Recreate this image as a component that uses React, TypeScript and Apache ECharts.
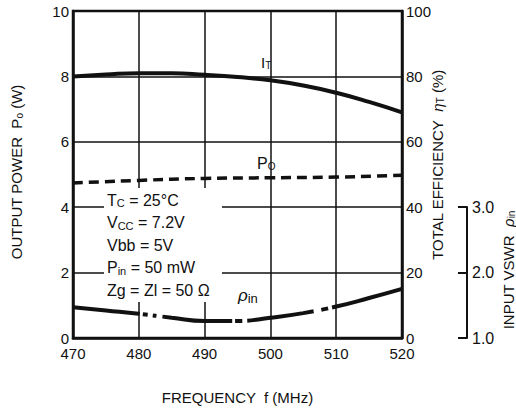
import React, { useEffect, useRef } from "react";
import * as echarts from "echarts";

const freqTicks = [470, 480, 490, 500, 510, 520];
const effFreq = [470, 475, 480, 485, 490, 495, 500, 505, 510, 515, 520];
const effVals = [80, 80.6, 81, 81, 80.5, 79.8, 78.8, 77.2, 75, 72.2, 69];
const poFreq = [470, 480, 490, 500, 510, 520];
const poVals = [4.74, 4.82, 4.88, 4.9, 4.92, 4.98];
const rhoFreq = [470, 475, 480, 485, 490, 495, 500, 505, 510, 515, 520];
const rhoVals = [1.47, 1.42, 1.37, 1.31, 1.26, 1.26, 1.31, 1.38, 1.48, 1.61, 1.75];
const vswrTicks = ["1.0", "2.0", "3.0"];
const conditions = [
  "T{s|C} = 25°C",
  "V{s|CC} = 7.2V",
  "Vbb = 5V",
  "P{s|in} = 50 mW",
  "Zg = Zl = 50 Ω",
];

const FONT = "'Liberation Sans', Arial, sans-serif";
const INK = "#111";

export default function App() {
  const ref = useRef<HTMLDivElement>(null);
  useEffect(() => {
    if (!ref.current) return;
    const chart = echarts.init(ref.current, null, { renderer: "svg" });
    const label = { color: INK, fontFamily: FONT, fontSize: 15 };
    const sub = { fontSize: 10, verticalAlign: "bottom", padding: [6, 0, 0, 0], fontFamily: FONT, color: INK };
    const italic = { fontStyle: "italic", fontSize: 15, fontFamily: FONT, color: INK };
    chart.setOption({
      animation: false,
      backgroundColor: "#fff",
      grid: [
        { left: 73, top: 11, width: 329, height: 327, show: true, borderColor: INK, borderWidth: 2.5, backgroundColor: "transparent" },
        { left: 73, top: 207, width: 329, height: 131, show: false },
      ],
      xAxis: [
        {
          type: "value", gridIndex: 0, min: 470, max: 520, interval: 10,
          axisLine: { show: true, lineStyle: { color: INK, width: 2.5 } },
          axisTick: { show: false },
          axisLabel: { ...label, margin: 8, customValues: freqTicks },
          splitLine: { show: true, lineStyle: { color: INK, width: 1.5 } },
          name: "FREQUENCY  f (MHz)", nameLocation: "middle", nameGap: 52,
          nameTextStyle: { color: INK, fontFamily: FONT, fontSize: 15 },
        },
        { type: "value", gridIndex: 1, min: 470, max: 520, show: false },
      ],
      yAxis: [
        {
          type: "value", gridIndex: 0, min: 0, max: 10, interval: 2,
          axisLine: { show: true, lineStyle: { color: INK, width: 2.5 } },
          axisTick: { show: false },
          axisLabel: { ...label, margin: 4 },
          splitLine: { show: true, lineStyle: { color: INK, width: 1.5 } },
        },
        {
          type: "value", gridIndex: 0, position: "right", min: 0, max: 100, interval: 20,
          axisLine: { show: true, lineStyle: { color: INK, width: 2.5 } },
          axisTick: { show: false },
          axisLabel: { ...label, margin: 4 },
          splitLine: { show: false },
        },
        {
          type: "value", gridIndex: 1, position: "right", offset: 65, min: 1, max: 3, interval: 1,
          axisLine: { show: true, lineStyle: { color: INK, width: 2 } },
          axisTick: { show: true, inside: true, length: 9, lineStyle: { color: INK, width: 2 } },
          axisLabel: { ...label, fontSize: 16, margin: 5, formatter: (v: number) => vswrTicks[Math.round(v) - 1] },
          splitLine: { show: false },
        },
      ],
      series: [
        {
          type: "line", xAxisIndex: 0, yAxisIndex: 1, showSymbol: false, smooth: true,
          data: effFreq.map((f, i) => [f, effVals[i]]),
          lineStyle: { color: INK, width: 4 },
        },
        {
          type: "line", xAxisIndex: 0, yAxisIndex: 0, showSymbol: false, smooth: true,
          data: poFreq.map((f, i) => [f, poVals[i]]),
          lineStyle: { color: INK, width: 3.5, type: [10, 6] },
        },
        {
          type: "line", xAxisIndex: 1, yAxisIndex: 2, showSymbol: false, smooth: true,
          data: rhoFreq.map((f, i) => [f, rhoVals[i]]),
          lineStyle: { color: INK, width: 4, type: [67, 3, 5, 5, 4, 6, 70, 3, 7, 5, 67, 8, 7, 4, 200] },
        },
      ],
      graphic: [
        { type: "rect", shape: { x: 104, y: 188, width: 118, height: 114 }, style: { fill: "#fff" }, z: 50 },
        ...conditions.map((t, i) => ({
          type: "text", x: 107, y: 200 + i * 22.5, z: 60,
          style: { text: t, fill: INK, font: `16px ${FONT}`, verticalAlign: "middle", rich: { s: { ...sub, fontSize: 11 } } },
        })),
        { type: "text", x: 261, y: 62, z: 60, style: { text: "I{s|T}", fill: INK, font: `15px ${FONT}`, verticalAlign: "middle", rich: { s: sub } } },
        { type: "text", x: 257, y: 163, z: 60, style: { text: "P{s|O}", fill: INK, font: `16px ${FONT}`, verticalAlign: "middle", rich: { s: sub } } },
        { type: "text", x: 238, y: 295, z: 60, style: { text: "{i|ρ}{s|in}", fill: INK, font: `15px ${FONT}`, verticalAlign: "middle", rich: { i: { ...italic, fontSize: 17 }, s: { ...sub, fontSize: 13 } } } },
        { type: "text", x: 16, y: 172, rotation: Math.PI / 2, z: 60, style: { text: "OUTPUT POWER  P{s|o} (W)", fill: INK, font: `15px ${FONT}`, align: "center", verticalAlign: "middle", rich: { s: sub } } },
        { type: "text", x: 437, y: 165, rotation: Math.PI / 2, z: 60, style: { text: "TOTAL EFFICIENCY  {i|η}{s|T} (%)", fill: INK, font: `15px ${FONT}`, align: "center", verticalAlign: "middle", rich: { s: sub, i: italic } } },
        { type: "text", x: 508, y: 270, rotation: Math.PI / 2, z: 60, style: { text: "INPUT VSWR  {i|ρ}{s|in}", fill: INK, font: `15px ${FONT}`, align: "center", verticalAlign: "middle", rich: { s: sub, i: italic } } },
      ],
    });
    return () => chart.dispose();
  }, []);
  return <div ref={ref} style={{ width: 516, height: 411, position: "absolute", left: 0, top: 0 }} />;
}
